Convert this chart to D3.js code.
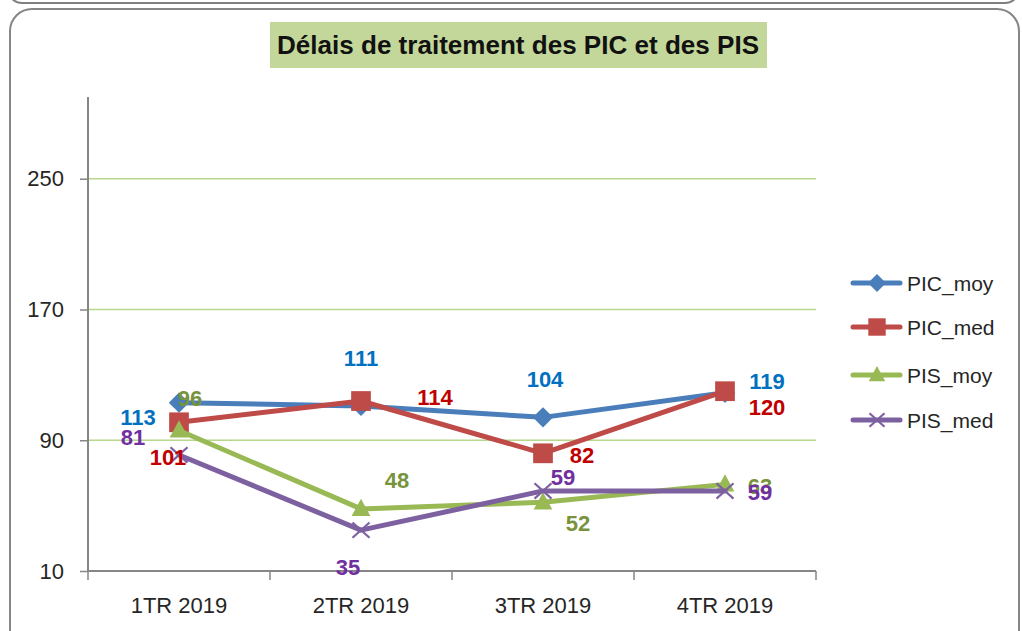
<!DOCTYPE html>
<html><head><meta charset="utf-8">
<script src="https://cdn.jsdelivr.net/npm/d3@7"></script>
<style>body{margin:0;background:#fff}svg{display:block}</style>
</head><body>
<svg id="c" width="1022" height="631"></svg>
<script>
const categories = ["1TR 2019","2TR 2019","3TR 2019","4TR 2019"];
const seriesNames = ["PIC_moy","PIC_med","PIS_moy","PIS_med"];
const picMoy = [113,111,104,119];
const picMed = [101,114,82,120];
const pisMoy = [96,48,52,63];
const pisMed = [81,35,59,59];
const yTicks = [10,90,170,250];
const title = "Délais de traitement des PIC et des PIS";

const lineColors = ["#4a7ebb","#be4b48","#98b954","#7d60a0"];
const labelColors = ["#0070c0","#c00000","#77933c","#7030a0"];
const markers = ["diamond","square","triangle","cross"];
// label centre offsets relative to each point (dx, dy)
const labelOffsets = [
  [[-41,14],[0,-48],[2,-38],[42,-12]],
  [[-11,35],[74,-4],[39,2],[42,16]],
  [[11,-32],[36,-29],[35,21],[35,2]],
  [[-46,-18],[-13,37],[20,-14],[35,1]]
];
const data = [picMoy,picMed,pisMoy,pisMed];

const svg = d3.select("#c");
const font = "'Liberation Sans', Arial, sans-serif";

// frames
svg.append("rect").attr("x",8).attr("y",-40).attr("width",1011).attr("height",43)
  .attr("rx",14).attr("fill","none").attr("stroke","#7f7f7f").attr("stroke-width",2);
svg.append("rect").attr("x",10).attr("y",9).attr("width",1009).attr("height",650)
  .attr("rx",22).attr("fill","#fff").attr("stroke","#868686").attr("stroke-width",2);

// title
svg.append("rect").attr("x",270).attr("y",22).attr("width",497).attr("height",46).attr("fill","#c4d79b");
svg.append("text").attr("x",518).attr("y",54).attr("text-anchor","middle")
  .attr("font-family",font).attr("font-weight","bold").attr("font-size",25)
  .attr("textLength",482).attr("lengthAdjust","spacingAndGlyphs").attr("fill","#111").text(title);

const x = d3.scaleBand().domain(categories).range([88,816]);
const y = d3.scaleLinear().domain([10,300]).range([571,97]);
const cx = c => x(c) + x.bandwidth()/2;

// gridlines
svg.append("g").selectAll("line").data(yTicks.slice(1)).join("line")
  .attr("x1",88).attr("x2",816).attr("y1",d=>y(d)).attr("y2",d=>y(d))
  .attr("stroke","#b8d68e").attr("stroke-width",1.5);

// axes
const yAxis = svg.append("g").attr("transform","translate(88,0)")
  .call(d3.axisLeft(y).tickValues(yTicks).tickSize(8).tickPadding(16));
yAxis.select(".domain").attr("stroke","#868686").attr("stroke-width",2).attr("d","M0,571V97");
yAxis.selectAll(".tick line").attr("stroke","#868686").attr("stroke-width",1.5);
yAxis.selectAll("text").attr("font-family",font).attr("font-size",22).attr("fill","#262626");

const xAxis = svg.append("g").attr("transform","translate(0,571)")
  .call(d3.axisBottom(x).tickSize(0).tickPadding(26));
xAxis.select(".domain").attr("stroke","#868686").attr("stroke-width",2).attr("d","M88,0H816");
xAxis.selectAll("text").attr("font-family",font).attr("font-size",22).attr("fill","#262626");
const bounds = x.domain().map(c=>x(c)).concat([x.range()[1]]);
svg.append("g").selectAll("line").data(bounds).join("line")
  .attr("x1",d=>d).attr("x2",d=>d).attr("y1",571).attr("y2",580)
  .attr("stroke","#868686").attr("stroke-width",1.5);

function drawMarker(g, type, color, px, py, s) {
  if (type==="diamond") {
    g.append("path").attr("d",`M${px},${py-s*0.6}L${px+s*0.6},${py}L${px},${py+s*0.6}L${px-s*0.6},${py}Z`).attr("fill",color);
  } else if (type==="square") {
    g.append("rect").attr("x",px-s*0.58).attr("y",py-s*0.58).attr("width",s*1.16).attr("height",s*1.16).attr("fill",color);
  } else if (type==="triangle") {
    g.append("path").attr("d",`M${px},${py-s*0.6}L${px+s*0.55},${py+s*0.42}L${px-s*0.55},${py+s*0.42}Z`).attr("fill",color);
  } else {
    g.append("path").attr("d",`M${px-s*0.5},${py-s*0.45}L${px+s*0.5},${py+s*0.45}M${px-s*0.5},${py+s*0.45}L${px+s*0.5},${py-s*0.45}`)
      .attr("stroke",color).attr("stroke-width",2.2).attr("fill","none");
  }
}

const line = d3.line().x((d,i)=>cx(categories[i])).y(d=>y(d));
data.forEach((vals,si)=>{
  const g = svg.append("g");
  g.append("path").datum(vals).attr("d",line).attr("fill","none")
    .attr("stroke",lineColors[si]).attr("stroke-width",5).attr("stroke-linejoin","round").attr("stroke-linecap","round");
  vals.forEach((v,i)=>drawMarker(g, markers[si], lineColors[si], cx(categories[i]), y(v), 17));
});
// labels
data.forEach((vals,si)=>{
  svg.append("g").selectAll("text").data(vals).join("text")
    .attr("x",(d,i)=>cx(categories[i])+labelOffsets[si][i][0])
    .attr("y",(d,i)=>y(d)+labelOffsets[si][i][1]+8)
    .attr("text-anchor","middle").attr("font-family",font).attr("font-weight","bold")
    .attr("font-size",22).attr("fill",labelColors[si]).text(d=>d);
});

// legend
const lg = svg.append("g");
const rowsY = [283,327,375,420];
seriesNames.forEach((n,i)=>{
  lg.append("line").attr("x1",853).attr("x2",900).attr("y1",rowsY[i]).attr("y2",rowsY[i])
    .attr("stroke",lineColors[i]).attr("stroke-width",5).attr("stroke-linecap","round");
  drawMarker(lg, markers[i], lineColors[i], 877, rowsY[i], 15);
  lg.append("text").attr("x",907).attr("y",rowsY[i]+7.5).attr("font-family",font)
    .attr("font-size",21).attr("fill","#262626").text(n);
});
</script>
</body></html>
